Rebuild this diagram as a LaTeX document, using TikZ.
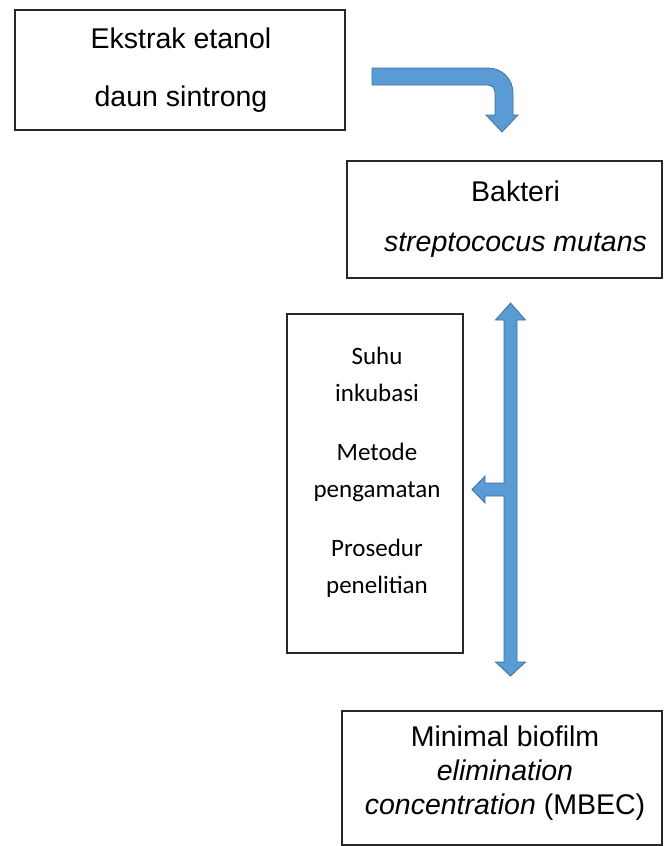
\documentclass[tikz,border=0pt]{standalone}
\usepackage{fontspec}
\setmainfont{Liberation Sans}
\newfontfamily\calfont{Carlito}
\definecolor{arrowfill}{RGB}{91,155,213}
\definecolor{arrowline}{RGB}{65,113,156}
\definecolor{boxline}{RGB}{40,40,40}
\tikzset{
  box/.style={draw=boxline, line width=1.6pt, rectangle, inner sep=0pt},
  txt/.style={align=center, inner sep=0pt},
  blockarrow/.style={fill=arrowfill, draw=arrowline, line width=0.8pt, line join=miter}
}
\begin{document}
\begin{tikzpicture}[x=1pt,y=-1pt]
\useasboundingbox (0,0) rectangle (664,846);
% boxes
\node[box, minimum width=330pt, minimum height=120pt] (ekstrak) at (180,70) {};
\node[box, minimum width=315pt, minimum height=117pt] (bakteri) at (504.5,219.5) {};
\node[box, minimum width=176pt, minimum height=339pt] (faktor) at (375,483.5) {};
\node[box, minimum width=320pt, minimum height=134pt] (mbec) at (502,778) {};
% texts
\node[txt, font=\fontsize{28.5}{58}\selectfont] (ekstrakT) at (181,70) {Ekstrak etanol\\daun sintrong};
\node[txt, font=\fontsize{28.5}{50}\selectfont] (bakteriT) at ([xshift=11pt]bakteri.center) {Bakteri\\\textit{streptococus mutans}};
\node[txt, font=\calfont\fontsize{25}{37}\selectfont] (faktorT) at (377,472) {Suhu\\inkubasi\\[22pt]Metode\\pengamatan\\[22pt]Prosedur\\penelitian};
\node[txt, font=\fontsize{28.5}{34}\selectfont] (mbecT) at (505,773) {Minimal biofilm\\\textit{elimination}\\\textit{concentration} (MBEC)};
% bent arrow from ekstrak to bakteri
\coordinate (bendTip) at (502,132);
\draw[blockarrow] (372,68) -- (488,68) .. controls (502,68) and (513,79) .. (513,93)
  -- (513,115) -- (518,115) -- (bendTip) -- (486,115) -- (495,115) -- (495,93)
  .. controls (495,88) and (492,85) .. (487,85) -- (372,85) -- cycle;
% double arrow with branch to faktor
\coordinate (upTip) at (510.5,303);
\coordinate (downTip) at (510.5,676);
\coordinate (leftTip) at (472,489.5);
\draw[blockarrow] (upTip) -- (525.5,320) -- (517,320) -- (517,662) -- (525.5,662)
  -- (downTip) -- (495.5,662) -- (504,662) -- (504,496) -- (485,496) -- (485,503)
  -- (leftTip) -- (485,476) -- (485,483) -- (504,483) -- (504,320) -- (495.5,320) -- cycle;
\end{tikzpicture}
\end{document}
